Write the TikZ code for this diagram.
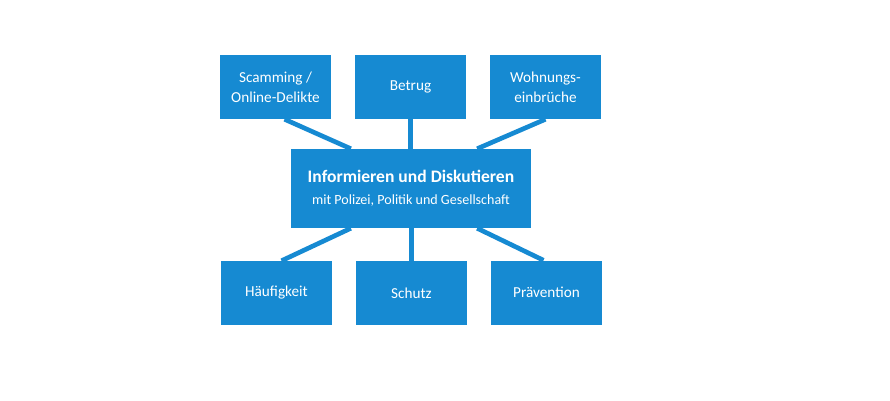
\documentclass[tikz,border=0pt]{standalone}
\usepackage{fontspec}
\setmainfont{Carlito}
\usetikzlibrary{calc}
\pgfdeclarelayer{background}
\pgfsetlayers{background,main}
\definecolor{boxblue}{RGB}{22,138,210}
\tikzset{
  thema/.style={fill=boxblue, text=white, minimum width=33.3mm, minimum height=19.2mm,
    align=center, inner sep=0pt, font=\fontsize{13}{17}\selectfont},
  mitte/.style={fill=boxblue, text=white, minimum width=72mm, minimum height=23.7mm,
    align=center, inner sep=0pt},
  verbindung/.style={draw=boxblue, line width=1.4mm}
}
\begin{document}
\begin{tikzpicture}[x=0.3mm,y=-0.3mm]
  \useasboundingbox (0,0) rectangle (890,400);

  % ===== Mitte =====
  \node[mitte] (info) at (411,188.5)
    {\fontsize{15}{18}\selectfont\bfseries Informieren und Diskutieren\\[7pt]
     \fontsize{12}{14}\selectfont mit Polizei, Politik und Gesellschaft};

  % ===== obere Reihe =====
  \node[thema] (scam)    at (275.5,87) {Scamming /\\Online-Delikte};
  \node[thema] (betrug)  at (410.5,87) {Betrug};
  \node[thema] (wohnung) at (545.5,87) {Wohnungs-\\einbrüche};

  % ===== untere Reihe =====
  \node[thema] (haeufig) at (276.5,293) {Häufigkeit};
  \node[thema] (schutz)  at (411.5,293) {Schutz};
  \node[thema] (praev)   at (546.5,292.5) {Prävention};

  % ===== Verbindungen =====
  \begin{pgfonlayer}{background}
    \draw[verbindung] ($(scam.south)+(9,0)$) -- ($(info.north west)!0.5!(info.north)$);
    \draw[verbindung] (betrug.south) -- (betrug.south |- info.north);
    \draw[verbindung] (wohnung.south) -- ($(info.north east)!0.45!(info.north)$);
    \draw[verbindung] ($(haeufig.north)+(5,0)$) -- ($(info.south west)!0.5!(info.south)$);
    \draw[verbindung] (schutz.north) -- (schutz.north |- info.south);
    \draw[verbindung] ($(praev.north)+(-3,0)$) -- ($(info.south east)!0.45!(info.south)$);
  \end{pgfonlayer}
\end{tikzpicture}
\end{document}
